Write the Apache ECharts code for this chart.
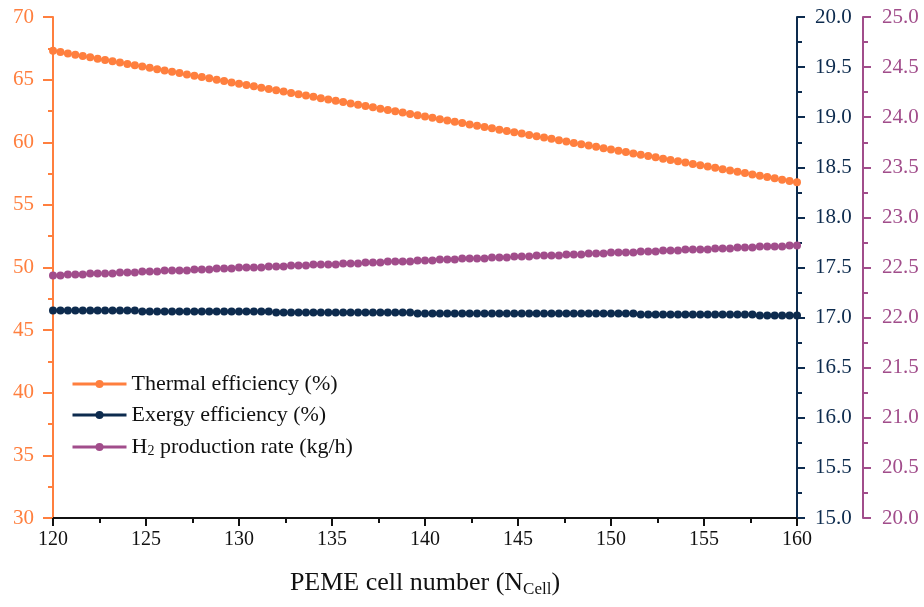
<!DOCTYPE html>
<html>
<head>
<meta charset="utf-8">
<script src="https://cdn.jsdelivr.net/npm/echarts@6/dist/echarts.min.js"></script>
<style>
  html, body { margin: 0; padding: 0; background: #fff; }
  #chart { width: 924px; height: 607px; }
</style>
</head>
<body>
<div id="chart"></div>
<script>
// PEM electrolyser cell count sweep: 120 to 160 cells in steps of 0.4
const cellNumbers = Array.from({ length: 101 }, (_, i) => +(120 + 0.4 * i).toFixed(1));

// Thermal efficiency (%), left axis
const thermalEff = [
  67.30, 67.20, 67.09, 66.99, 66.88, 66.78, 66.67, 66.57, 66.46, 66.36,
  66.25, 66.15, 66.04, 65.94, 65.83, 65.73, 65.62, 65.52, 65.41, 65.31,
  65.20, 65.10, 64.99, 64.89, 64.78, 64.68, 64.57, 64.47, 64.36, 64.26,
  64.15, 64.05, 63.94, 63.84, 63.73, 63.63, 63.52, 63.42, 63.31, 63.21,
  63.10, 63.00, 62.89, 62.79, 62.68, 62.58, 62.47, 62.37, 62.26, 62.16,
  62.05, 61.95, 61.84, 61.74, 61.63, 61.53, 61.42, 61.32, 61.21, 61.11,
  61.00, 60.90, 60.79, 60.69, 60.58, 60.48, 60.37, 60.27, 60.16, 60.06,
  59.95, 59.85, 59.74, 59.64, 59.53, 59.43, 59.32, 59.22, 59.11, 59.01,
  58.90, 58.80, 58.69, 58.59, 58.48, 58.38, 58.27, 58.17, 58.06, 57.96,
  57.85, 57.75, 57.64, 57.54, 57.43, 57.33, 57.22, 57.12, 57.01, 56.91,
  56.80
];

// Exergy efficiency (%), first right axis
const exergyEff = [
  17.07, 17.07, 17.07, 17.07, 17.07, 17.07, 17.07, 17.07, 17.07, 17.07,
  17.07, 17.07, 17.06, 17.06, 17.06, 17.06, 17.06, 17.06, 17.06, 17.06,
  17.06, 17.06, 17.06, 17.06, 17.06, 17.06, 17.06, 17.06, 17.06, 17.06,
  17.05, 17.05, 17.05, 17.05, 17.05, 17.05, 17.05, 17.05, 17.05, 17.05,
  17.05, 17.05, 17.05, 17.05, 17.05, 17.05, 17.05, 17.05, 17.05, 17.04,
  17.04, 17.04, 17.04, 17.04, 17.04, 17.04, 17.04, 17.04, 17.04, 17.04,
  17.04, 17.04, 17.04, 17.04, 17.04, 17.04, 17.04, 17.04, 17.04, 17.04,
  17.04, 17.04, 17.04, 17.04, 17.04, 17.04, 17.04, 17.04, 17.04, 17.03,
  17.03, 17.03, 17.03, 17.03, 17.03, 17.03, 17.03, 17.03, 17.03, 17.03,
  17.03, 17.03, 17.03, 17.03, 17.03, 17.02, 17.02, 17.02, 17.02, 17.02,
  17.02
];

// H2 production rate (kg/h), second right axis
const h2Rate = [
  22.42, 22.42, 22.43, 22.43, 22.43, 22.44, 22.44, 22.44, 22.44, 22.45,
  22.45, 22.45, 22.46, 22.46, 22.46, 22.47, 22.47, 22.47, 22.47, 22.48,
  22.48, 22.48, 22.49, 22.49, 22.49, 22.50, 22.50, 22.50, 22.50, 22.51,
  22.51, 22.51, 22.52, 22.52, 22.52, 22.53, 22.53, 22.53, 22.53, 22.54,
  22.54, 22.54, 22.55, 22.55, 22.55, 22.56, 22.56, 22.56, 22.56, 22.57,
  22.57, 22.57, 22.58, 22.58, 22.58, 22.59, 22.59, 22.59, 22.59, 22.60,
  22.60, 22.60, 22.61, 22.61, 22.61, 22.62, 22.62, 22.62, 22.62, 22.63,
  22.63, 22.63, 22.64, 22.64, 22.64, 22.65, 22.65, 22.65, 22.65, 22.66,
  22.66, 22.66, 22.67, 22.67, 22.67, 22.68, 22.68, 22.68, 22.68, 22.69,
  22.69, 22.69, 22.70, 22.70, 22.70, 22.71, 22.71, 22.71, 22.71, 22.72,
  22.72
];

const xTicks = [120, 125, 130, 135, 140, 145, 150, 155, 160];

const FONT = '"Liberation Serif", "DejaVu Serif", serif';
const ORANGE = '#FF7F3E';
const NAVY = '#0D2B4E';
const PURPLE = '#A14D8B';

const pairs = (ys) => cellNumbers.map((x, i) => [x, ys[i]]);

function yAxis(color, min, max, interval, decimals, tickLen, margin, extra) {
  return Object.assign({
    type: 'value', min, max, interval,
    axisLine: { show: true, lineStyle: { color, width: 2 } },
    axisTick: { show: true, length: tickLen, lineStyle: { color, width: 2 } },
    minorTick: { show: true, splitNumber: 2, length: 5, lineStyle: { color, width: 2 } },
    splitLine: { show: false },
    axisLabel: {
      color, fontFamily: FONT, fontSize: 21, margin,
      formatter: (v) => v.toFixed(decimals)
    }
  }, extra);
}

const chart = echarts.init(document.getElementById('chart'));
chart.setOption({
  animation: false,
  backgroundColor: '#fff',
  grid: { left: 53, right: 127, top: 17, bottom: 89, containLabel: false },
  legend: {
    orient: 'vertical', left: 66, top: 368,
    itemWidth: 54, itemHeight: 10, itemGap: 9,
    lineStyle: { width: 3 },
    textStyle: {
      color: '#111', fontFamily: FONT, fontSize: 22, lineHeight: 22,
      rich: {
        t: { fontFamily: FONT, fontSize: 22, lineHeight: 22, color: '#111' },
        s: { fontFamily: FONT, fontSize: 14, lineHeight: 22, color: '#111', verticalAlign: 'bottom', padding: [9, 0, 0, 0] }
      }
    },
    formatter: (name) => name.startsWith('H2')
      ? '{t|H}{s|2}{t|' + name.slice(2) + '}'
      : '{t|' + name + '}'
  },
  xAxis: {
    type: 'value', min: 120, max: 160, interval: 5,
    name: 'PEME cell number (N{s|Cell})',
    nameLocation: 'middle', nameGap: 51,
    nameTextStyle: {
      fontFamily: FONT, fontSize: 26, color: '#111',
      rich: {
        s: { fontFamily: FONT, fontSize: 17, color: '#111', verticalAlign: 'bottom', padding: [12, 0, 0, 0] }
      }
    },
    axisLine: { show: true, onZero: false, lineStyle: { color: '#111', width: 2 } },
    axisTick: { show: true, length: 8, lineStyle: { color: '#111', width: 2 } },
    minorTick: { show: true, splitNumber: 2, length: 5, lineStyle: { color: '#111', width: 2 } },
    splitLine: { show: false },
    axisLabel: {
      color: '#111', fontFamily: FONT, fontSize: 20, margin: 12,
      customValues: xTicks
    }
  },
  yAxis: [
    yAxis(ORANGE, 30, 70, 5, 0, 10, 19, { position: 'left' }),
    yAxis(NAVY, 15, 20, 0.5, 1, 8, 18, { position: 'right' }),
    yAxis(PURPLE, 20, 25, 0.5, 1, 8, 19, { position: 'right', offset: 66 })
  ],
  series: [
    {
      name: 'Thermal efficiency (%)', type: 'line', yAxisIndex: 0,
      data: pairs(thermalEff), symbol: 'circle', symbolSize: 8,
      itemStyle: { color: ORANGE }, lineStyle: { color: ORANGE, width: 2 }
    },
    {
      name: 'Exergy efficiency (%)', type: 'line', yAxisIndex: 1,
      data: pairs(exergyEff), symbol: 'circle', symbolSize: 8,
      itemStyle: { color: NAVY }, lineStyle: { color: NAVY, width: 2 }
    },
    {
      name: 'H2 production rate (kg/h)', type: 'line', yAxisIndex: 2,
      data: pairs(h2Rate), symbol: 'circle', symbolSize: 8,
      itemStyle: { color: PURPLE }, lineStyle: { color: PURPLE, width: 2 }
    }
  ]
});
</script>
</body>
</html>
